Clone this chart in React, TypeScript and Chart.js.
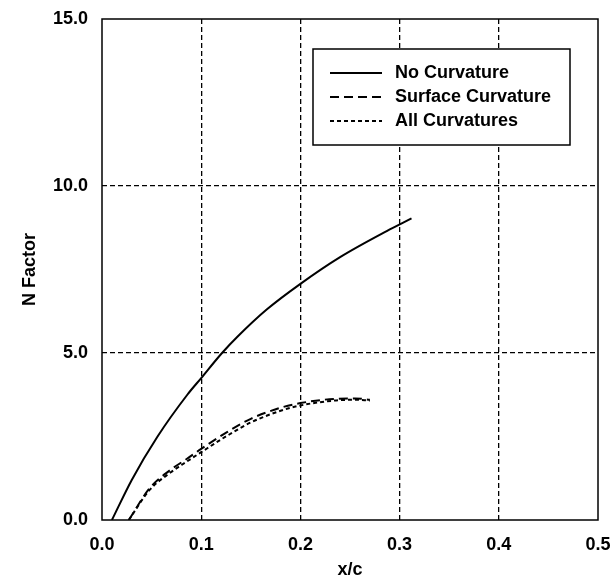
import React, { useEffect, useRef } from "react";
import { Chart, registerables } from "chart.js";

Chart.register(...registerables);

// Data
const noCurvX = [0.01, 0.03, 0.056, 0.086, 0.1, 0.121, 0.137, 0.166, 0.2, 0.24, 0.287, 0.312];
const noCurvN = [0, 1.2, 2.5, 3.75, 4.25, 5.0, 5.5, 6.3, 7.07, 7.87, 8.65, 9.03];

const surfX = [0.027, 0.048, 0.069, 0.085, 0.1, 0.126, 0.15, 0.18, 0.2, 0.236, 0.255, 0.27];
const surfN = [0, 0.95, 1.5, 1.82, 2.13, 2.63, 3.03, 3.36, 3.5, 3.63, 3.64, 3.6];

const allX = [0.027, 0.048, 0.069, 0.085, 0.1, 0.126, 0.15, 0.18, 0.2, 0.236, 0.255, 0.27];
const allN = [0, 0.9, 1.42, 1.74, 2.03, 2.52, 2.92, 3.27, 3.43, 3.58, 3.6, 3.58];

const seriesLabels = ["No Curvature", "Surface Curvature", "All Curvatures"];
const xTicks = [0, 0.1, 0.2, 0.3, 0.4, 0.5];
const yTicks = [0, 5, 10, 15];

const FONT = "'Liberation Sans', Arial, Helvetica, sans-serif";

const toPts = (xs: number[], ys: number[]) => xs.map((x, i) => ({ x, y: ys[i] }));

const framePlugin = {
  id: "frame",
  afterDraw(chart: any) {
    const { ctx, chartArea } = chart;
    ctx.save();
    ctx.strokeStyle = "#000";
    ctx.lineWidth = 1.5;
    ctx.setLineDash([]);
    ctx.strokeRect(chartArea.left, chartArea.top, chartArea.right - chartArea.left, chartArea.bottom - chartArea.top);

    // legend box
    const bx = 313, by = 49, bw = 257, bh = 96;
    ctx.fillStyle = "#fff";
    ctx.fillRect(bx, by, bw, bh);
    ctx.lineWidth = 1.5;
    ctx.strokeRect(bx, by, bw, bh);
    const rows = [73, 97, 121];
    chart.data.datasets.forEach((ds: any, i: number) => {
      const y = rows[i];
      ctx.save();
      ctx.strokeStyle = "#000";
      ctx.lineWidth = ds.borderWidth;
      ctx.setLineDash(ds.borderDash || []);
      ctx.beginPath();
      ctx.moveTo(330, y);
      ctx.lineTo(382, y);
      ctx.stroke();
      ctx.restore();
      ctx.fillStyle = "#000";
      ctx.font = `bold 18px ${FONT}`;
      ctx.textAlign = "left";
      ctx.textBaseline = "middle";
      ctx.fillText(ds.label, 395, y);
    });
    ctx.restore();
  },
};

export default function App() {
  const ref = useRef<HTMLCanvasElement | null>(null);
  useEffect(() => {
    if (!ref.current) return;
    const gridColor = (edge: number[]) => (c: any) =>
      edge.some((v) => Math.abs(c.tick.value - v) < 1e-9) ? "rgba(0,0,0,0)" : "#000";
    const chart = new Chart(ref.current, {
      type: "scatter",
      data: {
        datasets: [
          {
            label: seriesLabels[0],
            data: toPts(noCurvX, noCurvN),
            showLine: true,
            borderColor: "#000",
            borderWidth: 2,
            pointRadius: 0,
            cubicInterpolationMode: "monotone",
          },
          {
            label: seriesLabels[1],
            data: toPts(surfX, surfN),
            showLine: true,
            borderColor: "#000",
            borderWidth: 2,
            borderDash: [9, 5],
            pointRadius: 0,
            cubicInterpolationMode: "monotone",
          },
          {
            label: seriesLabels[2],
            data: toPts(allX, allN),
            showLine: true,
            borderColor: "#000",
            borderWidth: 2,
            borderDash: [4, 3],
            pointRadius: 0,
            cubicInterpolationMode: "monotone",
          },
        ],
      } as any,
      options: {
        animation: false,
        responsive: false,
        maintainAspectRatio: false,
        layout: { padding: { left: 0, right: 15, top: 19, bottom: 0 } },
        plugins: { legend: { display: false }, tooltip: { enabled: false } },
        scales: {
          x: {
            type: "linear",
            min: 0,
            max: 0.5,
            afterFit: (s: any) => {
              s.height = 58;
              s.paddingLeft = 0;
              s.paddingRight = 0;
            },
            afterBuildTicks: (s: any) => {
              s.ticks = xTicks.map((v) => ({ value: v }));
            },
            ticks: {
              color: "#000",
              padding: 14,
              maxRotation: 0,
              font: { family: FONT, size: 18, weight: "bold" },
              callback: (v: any) => Number(v).toFixed(1),
            },
            grid: {
              color: gridColor([0, 0.5]),
              lineWidth: 1.3,
              drawTicks: false,
            } as any,
            border: { display: false, dash: [5, 3] } as any,
            title: {
              display: true,
              text: "x/c",
              color: "#000",
              font: { family: FONT, size: 18, weight: "bold" },
              padding: { top: 0, bottom: -3 },
            },
          },
          y: {
            type: "linear",
            min: 0,
            max: 15,
            afterFit: (s: any) => {
              s.width = 102;
              s.paddingTop = 0;
              s.paddingBottom = 0;
            },
            afterBuildTicks: (s: any) => {
              s.ticks = yTicks.map((v) => ({ value: v }));
            },
            ticks: {
              color: "#000",
              padding: 14,
              font: { family: FONT, size: 18, weight: "bold" },
              callback: (v: any) => Number(v).toFixed(1),
            },
            grid: {
              color: gridColor([0, 15]),
              lineWidth: 1.3,
              drawTicks: false,
            },
            border: { display: false, dash: [5, 3] } as any,
            title: {
              display: true,
              text: "N Factor",
              color: "#000",
              font: { family: FONT, size: 18, weight: "bold" },
              padding: { top: 19, bottom: 0 },
            },
          },
        },
      } as any,
      plugins: [framePlugin],
    });
    return () => chart.destroy();
  }, []);
  return (
    <div style={{ position: "fixed", left: 0, top: 0, width: 613, height: 578, background: "#fff" }}>
      <canvas ref={ref} width={613} height={578} style={{ width: 613, height: 578, display: "block" }} />
    </div>
  );
}
